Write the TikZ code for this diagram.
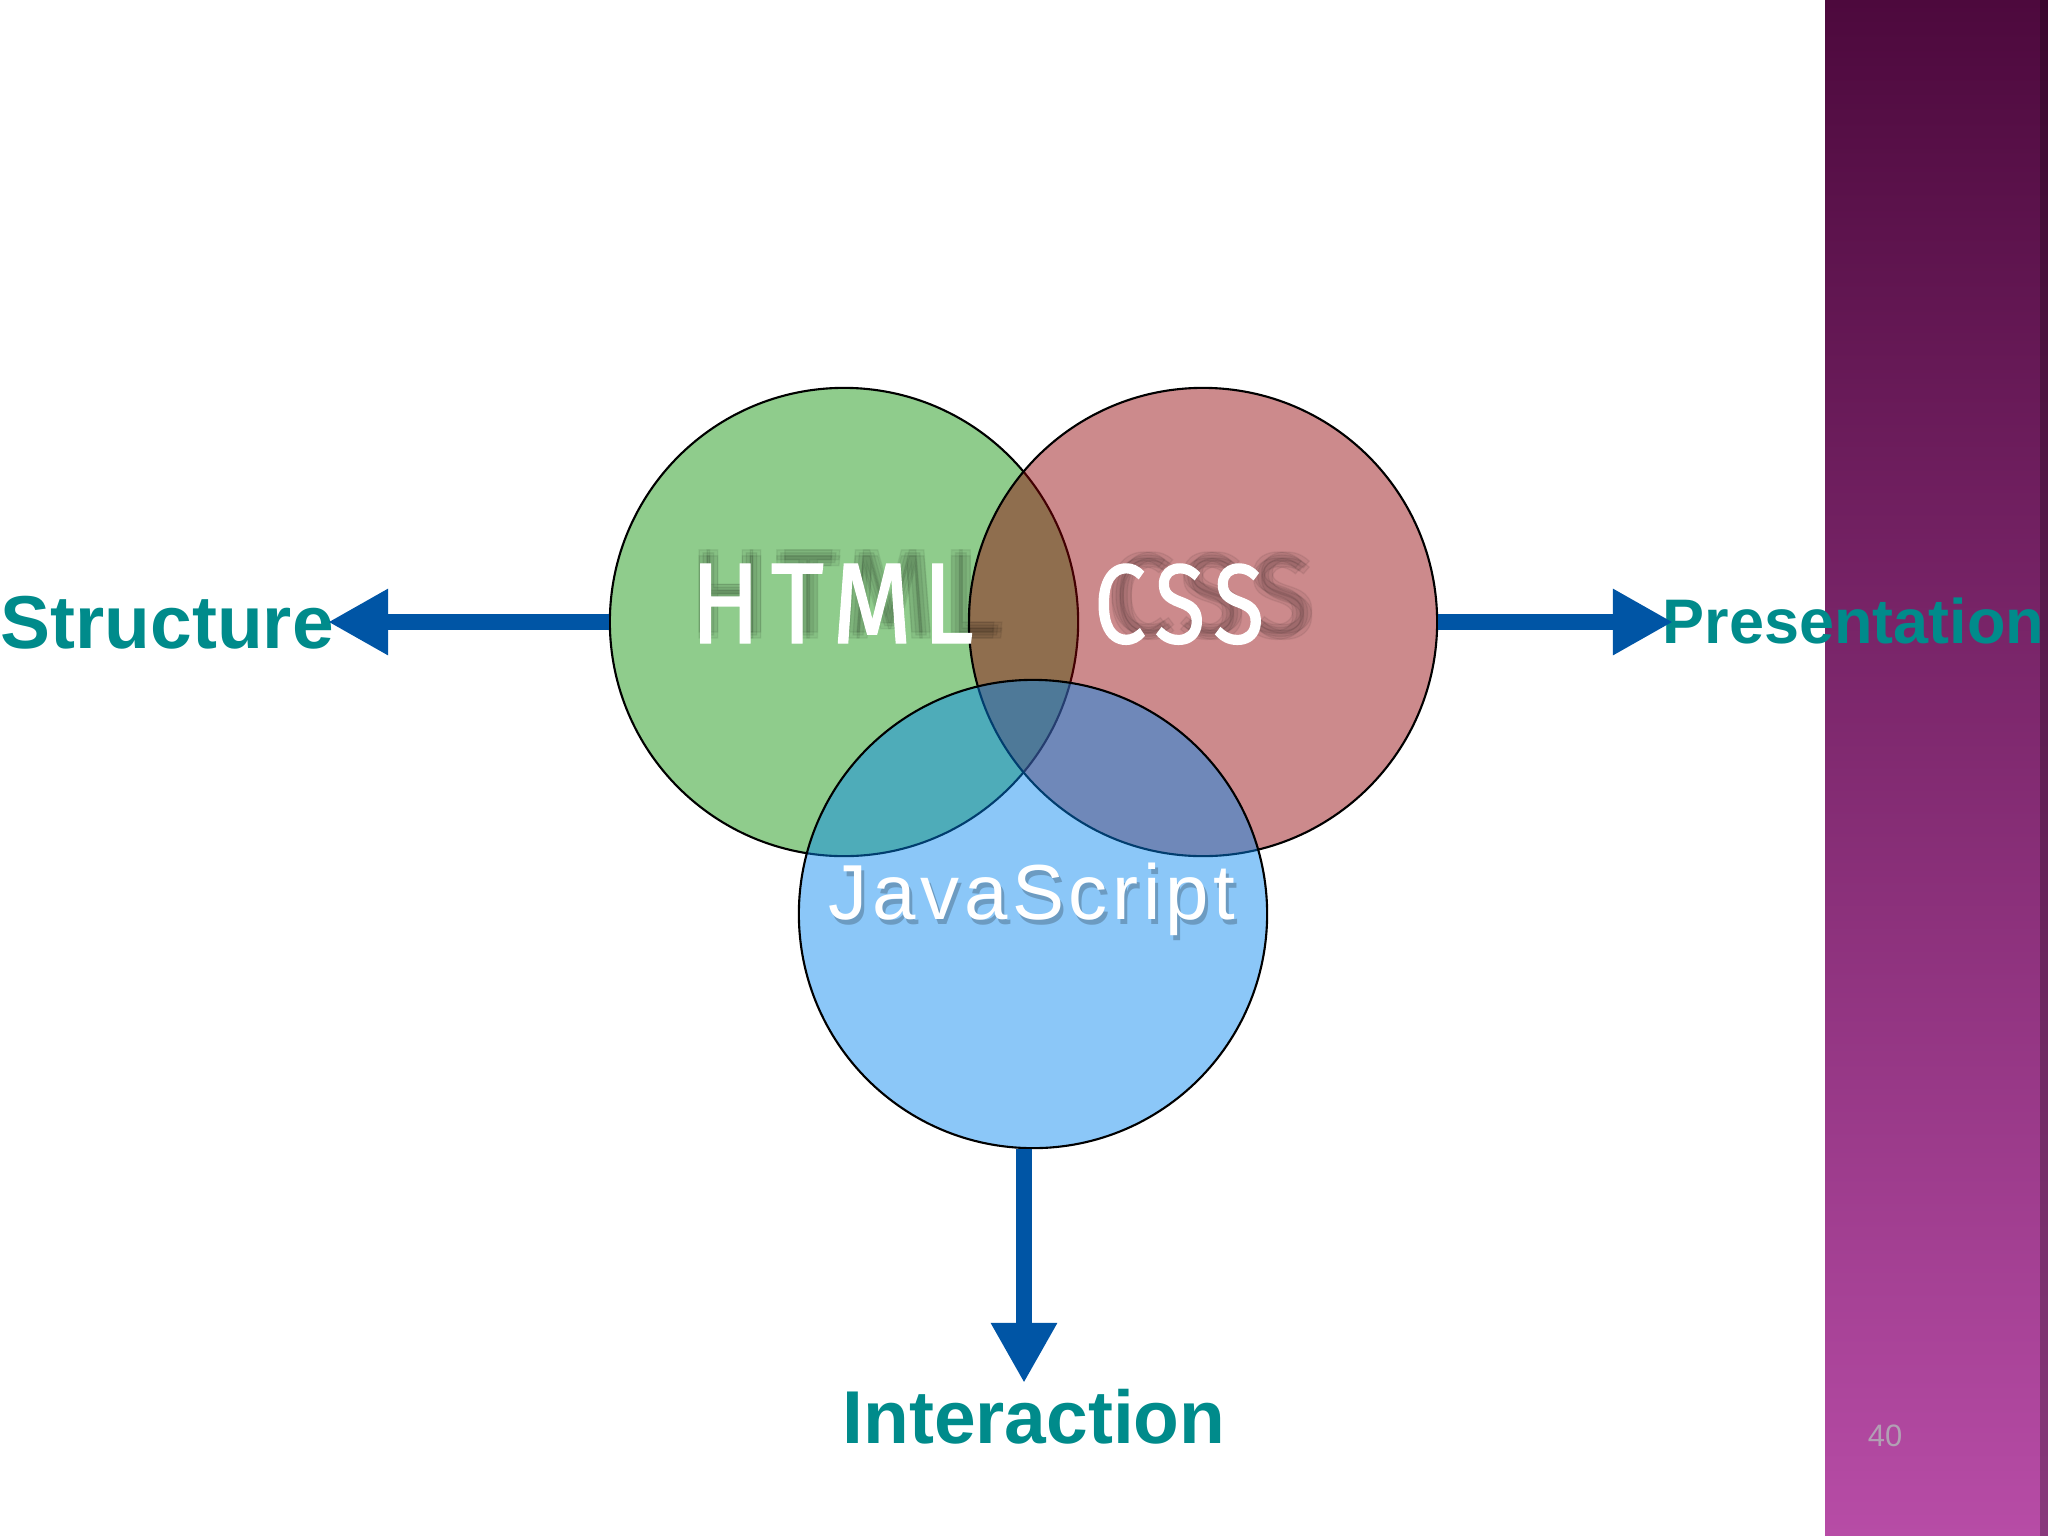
\documentclass[tikz,border=0pt]{standalone}
\usepackage{fontspec}
\setmainfont{Liberation Sans}
\newfontfamily\venfont[LetterSpace=10,FakeBold=1.2]{Fira Sans}
\newfontfamily\jsfont[LetterSpace=6]{Liberation Sans}
\usetikzlibrary{arrows.meta}
\definecolor{vgreen}{RGB}{12,144,5}
\definecolor{vred}{RGB}{144,0,5}
\definecolor{vblue}{RGB}{3,135,240}
\definecolor{arrowblue}{RGB}{0,85,165}
\definecolor{lblteal}{RGB}{0,139,139}
\definecolor{bartop}{RGB}{77,9,61}
\definecolor{barmid}{RGB}{122,40,108}
\definecolor{barbot}{RGB}{183,76,166}
\definecolor{pagegray}{RGB}{178,160,180}
\newcommand{\htmlword}[2]{\venfont\resizebox{#1}{#2}{HTML}}
\newcommand{\cssword}[2]{\venfont\resizebox{#1}{#2}{CSS}}
\begin{document}
\begin{tikzpicture}[x=0.01cm,y=-0.01cm,
  venn/.style={circle, draw=black, line width=0.6pt, minimum size=4.68cm, inner sep=0pt, fill opacity=0.46, draw opacity=1},
  flow/.style={draw=arrowblue, line width=0.16cm, -{Triangle[length=0.6cm,width=0.62cm]}},
  lbl/.style={text=lblteal, inner sep=0pt},
  wtext/.style={text=white, inner sep=0pt, anchor=base},
  stext/.style={text=black, text opacity=0.06, inner sep=0pt, anchor=base}]
\useasboundingbox (0,0) rectangle (2048,1536);
\fill[white] (0,0) rectangle (2048,1536);
% purple side bar
\shade[top color=bartop, middle color=barmid, bottom color=barbot] (1825,0) rectangle (2048,1536);
\fill[black, opacity=0.25] (2040,0) rectangle (2048,1536);
% circles
\node[venn, fill=vgreen] (html) at (844,622) {};
\node[venn, fill=vred] (css) at (1203,622) {};
\node[venn, fill=vblue] (js) at (1033,914) {};
% soft shadows of circle texts
\foreach \dx/\dy [count=\i] in {0/0,-4/-3,4/3,-4/3,4/-3} {
  \node[stext] (htmlshadow\i) at (846+\dx,635+\dy) {\htmlword{3.08cm}{0.82cm}};
  \node[stext] (cssshadow\i) at (1211+\dx,635+\dy) {\cssword{2.02cm}{0.80cm}};
}
\node[wtext] (htmltext) at (832,643) {\htmlword{2.83cm}{0.79cm}};
\node[wtext] (csstext) at (1179,643) {\cssword{1.70cm}{0.79cm}};
\node[stext, text opacity=0.22] (jsshadow) at (1035,924) {\jsfont\resizebox{4.06cm}{!}{JavaScript}};
\node[wtext] (jstext) at (1032,919) {\jsfont\resizebox{4.06cm}{!}{JavaScript}};
% labels
\node[lbl, anchor=base west, font=\bfseries\fontsize{21.3}{24}\selectfont] (structure) at (0,648) {Structure};
\node[lbl, anchor=base west, font=\bfseries\fontsize{17.9}{20}\selectfont] (presentation) at (1662,643) {Presentation};
\node[lbl, anchor=base, font=\bfseries\fontsize{21.3}{24}\selectfont] (interaction) at (1034,1443) {Interaction};
\node[text=pagegray, inner sep=0pt, anchor=base, font=\fontsize{8.8}{10}\selectfont] (pagenum) at (1885,1446) {40};
% arrows
\coordinate (stip) at (328,622);
\coordinate (ptip) at (1673,622);
\coordinate (itip) at (1024,1383);
\draw[flow] (html.west) -- (stip);
\draw[flow] (css.east) -- (ptip);
\draw[flow] (itip |- js.south) -- (itip);
\end{tikzpicture}
\end{document}
